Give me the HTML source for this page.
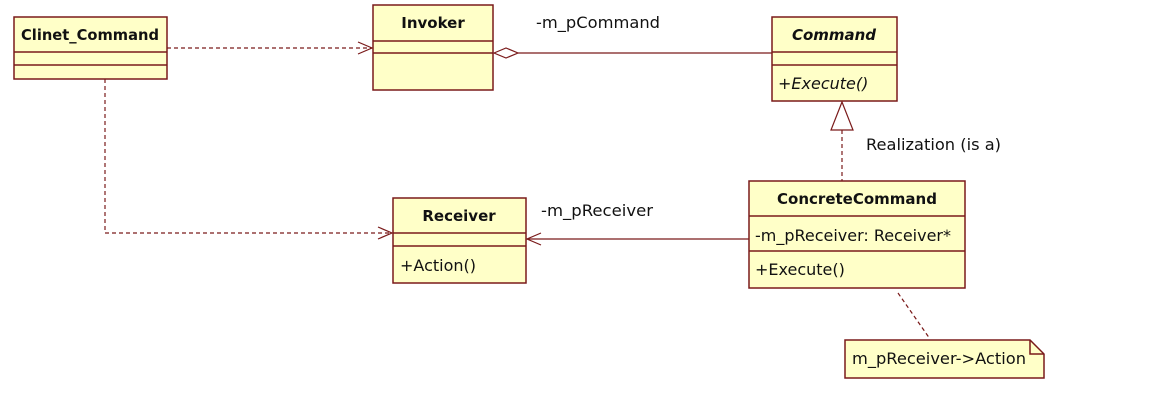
<!DOCTYPE html>
<html><head><meta charset="utf-8"><style>
html,body{margin:0;padding:0;background:#fff;}
svg{display:block;font-family:"DejaVu Sans","Liberation Sans",sans-serif;}
</style></head><body>
<svg width="1150" height="402" viewBox="0 0 1150 402" xmlns="http://www.w3.org/2000/svg">
<g fill="#ffffc8" stroke="#7a1a1a" stroke-width="1.5">
<rect x="14" y="17" width="153" height="62"/>
<line x1="14" y1="52" x2="167" y2="52"/><line x1="14" y1="65" x2="167" y2="65"/>
<rect x="373" y="5" width="120" height="85"/>
<line x1="373" y1="41" x2="493" y2="41"/><line x1="373" y1="53" x2="493" y2="53"/>
<rect x="772" y="17" width="125" height="84"/>
<line x1="772" y1="52" x2="897" y2="52"/><line x1="772" y1="65" x2="897" y2="65"/>
<rect x="749" y="181" width="216" height="107"/>
<line x1="749" y1="216" x2="965" y2="216"/><line x1="749" y1="251" x2="965" y2="251"/>
<rect x="393" y="198" width="133" height="85"/>
<line x1="393" y1="233" x2="526" y2="233"/><line x1="393" y1="246" x2="526" y2="246"/>
<path d="M845 340 H1030 L1044 354 V378 H845 Z"/>
<path d="M1030 340 V354 H1044" fill="none"/>
</g>
<g stroke="#7a1a1a" stroke-width="1.2" fill="none">
<line x1="167" y1="48" x2="372" y2="48" stroke-dasharray="4,3"/>
<path d="M358 42 L372 48 L358 54"/>
<line x1="105" y1="79" x2="105" y2="233" stroke-dasharray="4,3"/>
<line x1="105" y1="233" x2="392" y2="233" stroke-dasharray="4,3"/>
<path d="M378 227 L392 233 L378 239"/>
<path d="M494 53 L506 48 L518 53 L506 58 Z" fill="#fff"/>
<line x1="518" y1="53" x2="772" y2="53"/>
<line x1="527" y1="239" x2="749" y2="239"/>
<path d="M541 233 L527 239 L541 245"/>
<path d="M842 102 L831 130 L853 130 Z" fill="#fff"/>
<line x1="842" y1="130" x2="842" y2="181" stroke-dasharray="4,3"/>
<line x1="898" y1="293" x2="930" y2="339" stroke-dasharray="4,3"/>
</g>
<g font-size="16" fill="#111">
<g font-size="15" font-weight="bold">
<text x="90" y="40" text-anchor="middle" textLength="138" lengthAdjust="spacingAndGlyphs">Clinet_Command</text>
<text x="433" y="28" text-anchor="middle">Invoker</text>
<text x="834" y="40" text-anchor="middle" font-style="italic">Command</text>
<text x="857" y="204" text-anchor="middle">ConcreteCommand</text>
<text x="459" y="221" text-anchor="middle">Receiver</text>
</g>
<text x="778" y="89" font-style="italic">+Execute()</text>
<text x="755" y="241" textLength="196" lengthAdjust="spacingAndGlyphs">-m_pReceiver: Receiver*</text>
<text x="755" y="275">+Execute()</text>
<text x="400" y="271">+Action()</text>
<text x="852" y="364" textLength="174" lengthAdjust="spacingAndGlyphs">m_pReceiver-&gt;Action</text>
<text x="536" y="28" textLength="124" lengthAdjust="spacingAndGlyphs">-m_pCommand</text>
<text x="866" y="150" textLength="135" lengthAdjust="spacingAndGlyphs">Realization (is a)</text>
<text x="541" y="216" textLength="112" lengthAdjust="spacingAndGlyphs">-m_pReceiver</text>
</g>
</svg>
</body></html>
